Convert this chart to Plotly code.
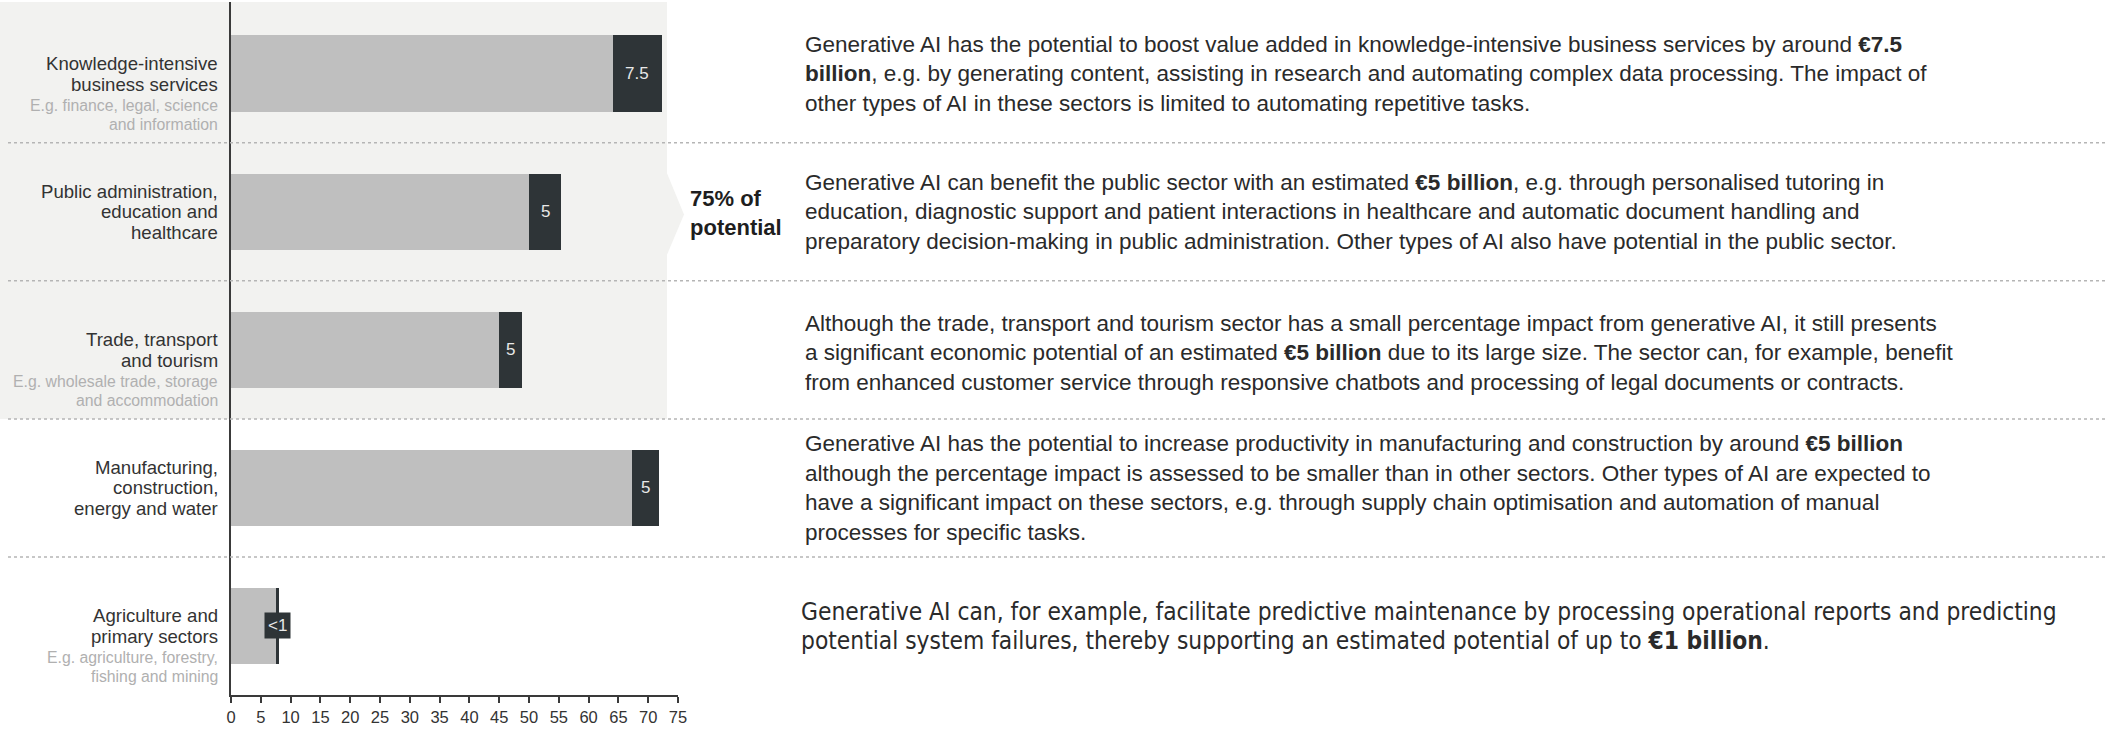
import plotly.graph_objects as go

# ---------------- data ----------------
sectors = ["Knowledge", "Public", "Trade", "Manufacturing", "Agriculture"]
other_ai = [64.1, 50.0, 45.0, 67.3, 7.6]        # light grey segment
gen_ai = [8.2, 5.4, 3.8, 4.5, 0.5]             # dark segment
gen_ai_labels = ["7.5", "5", "5", "5", "<1"]
x_ticks = list(range(0, 80, 5))

main_labels = [
    ["Knowledge-intensive", "business services"],
    ["Public administration,", "education and", "healthcare"],
    ["Trade, transport", "and tourism"],
    ["Manufacturing,", "construction,", "energy and water"],
    ["Agriculture and", "primary sectors"],
]
sub_labels = [
    ["E.g. finance, legal, science", "and information"],
    [],
    ["E.g. wholesale trade, storage", "and accommodation"],
    [],
    ["E.g. agriculture, forestry,", "fishing and mining"],
]
descriptions = [
    ["Generative AI has the potential to boost value added in knowledge-intensive business services by around <b>€7.5</b>",
     "<b>billion</b>, e.g. by generating content, assisting in research and automating complex data processing. The impact of",
     "other types of AI in these sectors is limited to automating repetitive tasks."],
    ["Generative AI can benefit the public sector with an estimated <b>€5 billion</b>, e.g. through personalised tutoring in",
     "education, diagnostic support and patient interactions in healthcare and automatic document handling and",
     "preparatory decision-making in public administration. Other types of AI also have potential in the public sector."],
    ["Although the trade, transport and tourism sector has a small percentage impact from generative AI, it still presents",
     "a significant economic potential of an estimated <b>€5 billion</b> due to its large size. The sector can, for example, benefit",
     "from enhanced customer service through responsive chatbots and processing of legal documents or contracts."],
    ["Generative AI has the potential to increase productivity in manufacturing and construction by around <b>€5 billion</b>",
     "although the percentage impact is assessed to be smaller than in other sectors. Other types of AI are expected to",
     "have a significant impact on these sectors, e.g. through supply chain optimisation and automation of manual",
     "processes for specific tasks."],
    ["Generative AI can, for example, facilitate predictive maintenance by processing operational reports and predicting",
     "potential system failures, thereby supporting an estimated potential of up to <b>€1 billion</b>."],
]
callout_text = "<b>75% of<br>potential</b>"

# ---------------- layout constants ----------------
W, H = 2106, 730
PL, PR, PT, PB = 231, 678, 2, 695          # plot area in pixels
FONT = "Liberation Sans, Arial, Helvetica, sans-serif"
NARROW = "Liberation Sans Narrow, Arial Narrow, DejaVu Sans Condensed, sans-serif"
LIGHT = "#bfbfbf"
DARK = "#2e3437"
BG = "#f2f2f0"


def px(xpix):
    """pixel x -> paper x"""
    return (xpix - PL) / (PR - PL)


fig = go.Figure()
fig.add_trace(go.Bar(y=sectors, x=other_ai, orientation="h",
                     marker=dict(color=LIGHT, line=dict(width=0)),
                     hoverinfo="skip", showlegend=False))
fig.add_trace(go.Bar(y=sectors, x=gen_ai, orientation="h",
                     marker=dict(color=DARK, line=dict(width=0)),
                     hoverinfo="skip", showlegend=False))

shapes = []
# grey panel behind the first three rows
shapes.append(dict(type="rect", xref="paper", yref="y", x0=px(0), x1=px(667),
                   y0=-0.52, y1=2.5, fillcolor=BG, line=dict(width=0), layer="below"))
# chevron on the panel
shapes.append(dict(type="path", xref="paper", yref="y",
                   path=f"M {px(667)},0.72 L {px(684)},1.02 L {px(667)},1.31 Z",
                   fillcolor=BG, line=dict(width=0), layer="below"))
# dotted separators
for b in [0.5, 1.5, 2.5, 3.5]:
    shapes.append(dict(type="line", xref="paper", yref="y", x0=px(8), x1=px(W),
                       y0=b, y1=b, line=dict(color="#b5b5b5", width=1.5, dash="dot"),
                       layer="above"))

annotations = []
# bar value labels
for i, s in enumerate(sectors):
    lab = gen_ai_labels[i]
    boxed = lab == "<1"
    annotations.append(dict(
        x=other_ai[i] + gen_ai[i] / 2, y=s, xref="x", yref="y", text=lab,
        showarrow=False, font=dict(family=FONT, size=17, color="#e8e8e8"),
        bgcolor=DARK if boxed else None, borderpad=3 if boxed else 1,
        xanchor="center", yanchor="middle"))

# left category labels, one annotation per line
MAIN_SP, SUB_GAP, SUB_SP = 20.5, 21, 19.5
for i, s in enumerate(sectors):
    n = len(main_labels[i])
    offs = [(k - (n - 1) / 2) * MAIN_SP for k in range(n)]
    for k, t in enumerate(main_labels[i]):
        annotations.append(dict(x=px(220), y=s, xref="paper", yref="y", text=t,
                                showarrow=False, xanchor="right", yanchor="middle",
                                yshift=-offs[k],
                                font=dict(family=FONT, size=18.6, color="#333333")))
    last = offs[-1]
    for k, t in enumerate(sub_labels[i]):
        d = last + SUB_GAP + k * SUB_SP
        annotations.append(dict(x=px(220), y=s, xref="paper", yref="y", text=t,
                                showarrow=False, xanchor="right", yanchor="middle",
                                yshift=-d,
                                font=dict(family=FONT, size=15.8, color="#b0b0b0")))

# right-hand descriptions, one annotation per line
desc_x = [803, 803, 803, 803, 799]
desc_shift = [0, 0, -3, 0, 0]
desc_font = [FONT, FONT, FONT, FONT, NARROW]
desc_size = [22.5, 22.5, 22.5, 22.5, 24.3]
DESC_SP = 29.4
for i, s in enumerate(sectors):
    n = len(descriptions[i])
    for k, line in enumerate(descriptions[i]):
        off = (k - (n - 1) / 2) * DESC_SP
        annotations.append(dict(x=px(desc_x[i]), y=s, xref="paper", yref="y",
                                text=line, showarrow=False,
                                xanchor="left", yanchor="middle", align="left",
                                yshift=desc_shift[i] - off,
                                font=dict(family=desc_font[i], size=desc_size[i],
                                          color="#2a2a2a")))

# callout
annotations.append(dict(x=px(688), y=sectors[1], xref="paper", yref="y",
                        text=callout_text, showarrow=False, xanchor="left",
                        yanchor="middle", align="left", yshift=-1,
                        font=dict(family=FONT, size=22, color="#1e1e1e")))

fig.update_layout(
    width=W, height=H,
    margin=dict(l=PL, r=W - PR, t=PT, b=H - PB, pad=0),
    barmode="stack", bargap=0.445,
    paper_bgcolor="white", plot_bgcolor="rgba(0,0,0,0)",
    shapes=shapes, annotations=annotations,
    font=dict(family=FONT, color="#333333"),
    showlegend=False,
)
fig.update_xaxes(range=[0, 75], tickvals=x_ticks, ticktext=[str(v) for v in x_ticks],
                 showgrid=False, zeroline=False, showline=True, linecolor="#3a3a3a",
                 linewidth=2, ticks="outside", ticklen=6, tickwidth=1.5,
                 tickcolor="#3a3a3a", tickfont=dict(family=FONT, size=16.5, color="#333333"),
                 fixedrange=True)
fig.update_yaxes(categoryorder="array", categoryarray=sectors, autorange="reversed",
                 showticklabels=False, showgrid=False, zeroline=False, showline=True,
                 linecolor="#3a3a3a", linewidth=2, ticks="", fixedrange=True)

fig.write_html("out.html", config={"displayModeBar": False},
               post_script="document.body.style.margin='0';document.body.style.padding='0';")
